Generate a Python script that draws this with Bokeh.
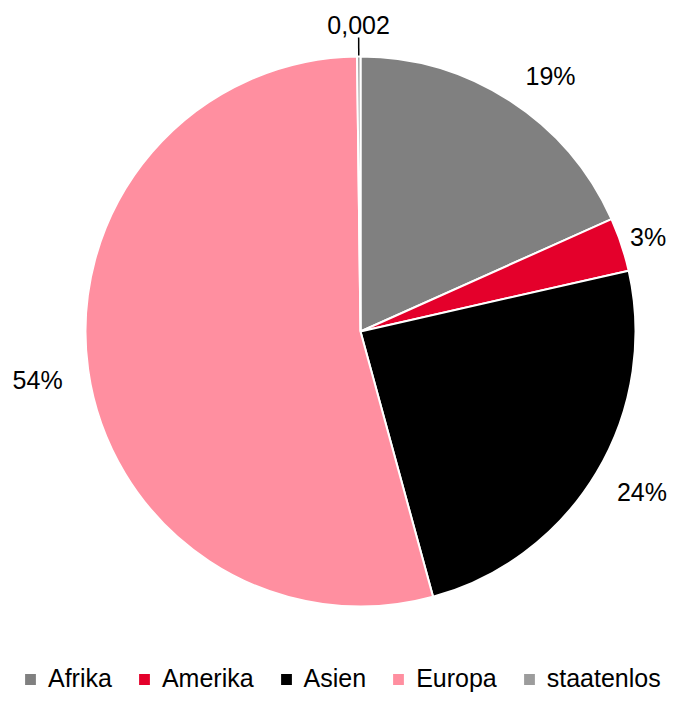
import math
from bokeh.plotting import figure
from bokeh.models import ColumnDataSource, Legend, LegendItem
from bokeh.embed import file_html
from bokeh.resources import INLINE

# ---- data ----
categories = ["Afrika", "Amerika", "Asien", "Europa", "staatenlos"]
values = [18.3, 3.15, 24.3, 54.05, 0.2]
labels = ["19%", "3%", "24%", "54%", "0,002"]
colors = ["#808080", "#E4002B", "#000000", "#FF8FA0", "#9C9C9C"]

# ---- styles / layout ----
W, H = 668, 693
CX, CY = 360, 362          # pie centre in canvas pixels (y up)
R = 275
LABEL_R = 320
label_nudge = [(16, -13), (-16, -7), (7, 4), (-6, -4), (0, 0)]  # px (x right, y up)
FONT = "Liberation Sans"

total = sum(values)
starts, ends, mids = [], [], []
cum = 0.0
for v in values:
    a0 = math.pi / 2 - 2 * math.pi * cum / total
    cum += v
    a1 = math.pi / 2 - 2 * math.pi * cum / total
    starts.append(a0)
    ends.append(a1)
    mids.append((a0 + a1) / 2)

src = ColumnDataSource(dict(cat=categories, val=values, start=starts, end=ends, color=colors))

p = figure(width=W, height=H, x_range=(0, W), y_range=(0, H),
           output_backend="svg", toolbar_location=None, min_border=0)
p.axis.visible = False
p.grid.visible = False
p.outline_line_color = None
p.background_fill_color = "white"
p.border_fill_color = "white"

r = p.wedge(x=CX, y=CY, radius=R, start_angle="start", end_angle="end",
            direction="clock", fill_color="color", line_color="white",
            line_width=2, source=src)

# labels
lx, ly, lt = [], [], []
for i, (m, t) in enumerate(zip(mids, labels)):
    if categories[i] == "staatenlos":
        continue
    lx.append(CX + LABEL_R * math.cos(m) + label_nudge[i][0])
    ly.append(CY + LABEL_R * math.sin(m) + label_nudge[i][1])
    lt.append(t)
p.text(x=lx, y=ly, text=lt, text_align="center", text_baseline="middle",
       text_font={"value": FONT}, text_font_size="25px", text_color="#000000")

# staatenlos label with leader line
si = categories.index("staatenlos")
m = mids[si]
p.segment(x0=[CX + 276 * math.cos(m)], y0=[CY + 276 * math.sin(m)],
          x1=[CX + 294 * math.cos(m)], y1=[CY + 294 * math.sin(m)],
          line_color="#000000", line_width=1.5)
p.text(x=[CX + 307 * math.cos(m)], y=[CY + 307 * math.sin(m)], text=[labels[si]],
       text_align="center", text_baseline="middle",
       text_font={"value": FONT}, text_font_size="25px", text_color="#000000")

items = [LegendItem(label=c, renderers=[r], index=i) for i, c in enumerate(categories)]
legend = Legend(items=items, orientation="horizontal", location=(22, 0),
                border_line_color=None, background_fill_alpha=0, padding=0, margin=0,
                spacing=24, label_standoff=10, glyph_width=16, glyph_height=16,
                label_height=16,
                label_text_font=FONT, label_text_font_size="25px",
                label_text_color="#000000")
p.add_layout(legend)

open("out.html", "w").write(file_html(p, INLINE))
